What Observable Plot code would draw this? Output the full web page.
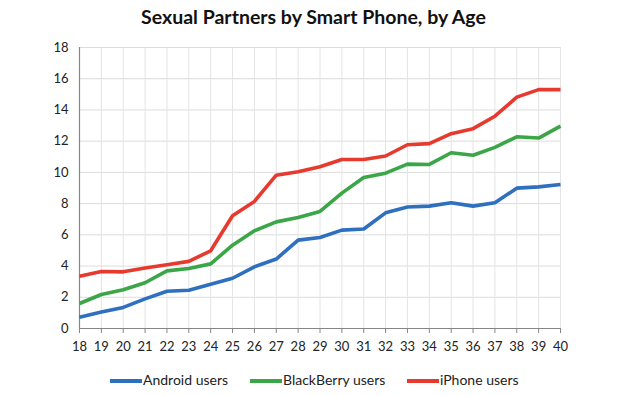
<!DOCTYPE html>
<html>
<head>
<meta charset="utf-8">
<script src="https://cdn.jsdelivr.net/npm/d3@7"></script>
<script src="https://cdn.jsdelivr.net/npm/@observablehq/plot@0.6"></script>
<style>
  body { margin: 0; background: #fff; font-family: Lato, "Open Sans", sans-serif; }
  #wrap { width: 639px; height: 396px; position: relative; overflow: hidden; }
  #title { height: 36px; line-height: 34px; text-align: center; padding-right: 12px; font-weight: bold; font-size: 19.5px; color: #111; }
  #legend { position: absolute; top: 366px; left: 0; width: 639px; height: 30px; font-size: 14px; color: #222; }
  .item { position: absolute; top: 5px; height: 18px; line-height: 18px; }
  .sw { position: absolute; top: 8px; height: 4px; width: 32px; }
  .lbl { position: absolute; left: 33px; white-space: nowrap; }
  svg text { fill: #222; }
</style>
</head>
<body>
<div id="wrap">
  <div id="title">Sexual Partners by Smart Phone, by Age</div>
  <div id="chart"></div>
  <div id="legend"></div>
</div>
<script>
const ages = [18,19,20,21,22,23,24,25,26,27,28,29,30,31,32,33,34,35,36,37,38,39,40];
const android = [0.72,1.05,1.35,1.9,2.39,2.45,2.84,3.22,3.95,4.45,5.66,5.83,6.3,6.37,7.41,7.78,7.84,8.05,7.84,8.05,8.99,9.07,9.22];
const blackberry = [1.6,2.18,2.48,2.93,3.69,3.84,4.14,5.34,6.26,6.83,7.11,7.5,8.67,9.67,9.95,10.53,10.51,11.26,11.1,11.6,12.28,12.2,12.96];
const iphone = [3.35,3.65,3.63,3.88,4.08,4.3,4.98,7.22,8.14,9.82,10.04,10.36,10.83,10.83,11.05,11.77,11.84,12.48,12.8,13.6,14.82,15.3,15.3];
const seriesNames = ["Android users","BlackBerry users","iPhone users"];
const seriesColors = ["#2e6fbe","#3aa647","#e63a2f"];
const yTicks = [0,2,4,6,8,10,12,14,16,18];

const rows = [];
[android, blackberry, iphone].forEach((vals, si) => {
  vals.forEach((v, i) => rows.push({age: ages[i], value: v, series: seriesNames[si]}));
});

const plot = Plot.plot({
  width: 639,
  height: 330,
  marginTop: 11,
  marginBottom: 38,
  marginLeft: 79,
  marginRight: 79,
  style: {fontFamily: "Lato, 'Open Sans', sans-serif", fontSize: "13px", background: "transparent"},
  x: {domain: [18, 40], label: null},
  y: {domain: [0, 18], label: null},
  color: {domain: seriesNames, range: seriesColors},
  marks: [
    Plot.gridY(yTicks, {stroke: "#dcdcdc", strokeOpacity: 1}),
    Plot.gridX(ages, {stroke: "#e4e4e4", strokeOpacity: 1}),
    Plot.ruleY([0], {stroke: "#868686", strokeWidth: 1.2}),
    Plot.ruleX([18], {stroke: "#868686", strokeWidth: 1.2}),
    Plot.line(rows, {x: "age", y: "value", z: "series", stroke: "series", strokeWidth: 3.6, strokeLinejoin: "round", strokeLinecap: "butt"}),
    Plot.axisX(ages, {tickSize: 5, tickPadding: 8, stroke: "#868686", tickFormat: d => String(d), label: null, fontSize: 13}),
    Plot.axisY(yTicks, {tickSize: 0, tickPadding: 11, label: null, fontSize: 13})
  ]
});
document.getElementById("chart").appendChild(plot);

const legendPos = [110, 250, 407];
const legend = document.getElementById("legend");
seriesNames.forEach((name, i) => {
  const it = document.createElement("div");
  it.className = "item";
  it.style.left = legendPos[i] + "px";
  it.innerHTML = `<div class="sw" style="background:${seriesColors[i]}"></div><div class="lbl">${name}</div>`;
  legend.appendChild(it);
});
</script>
</body>
</html>
